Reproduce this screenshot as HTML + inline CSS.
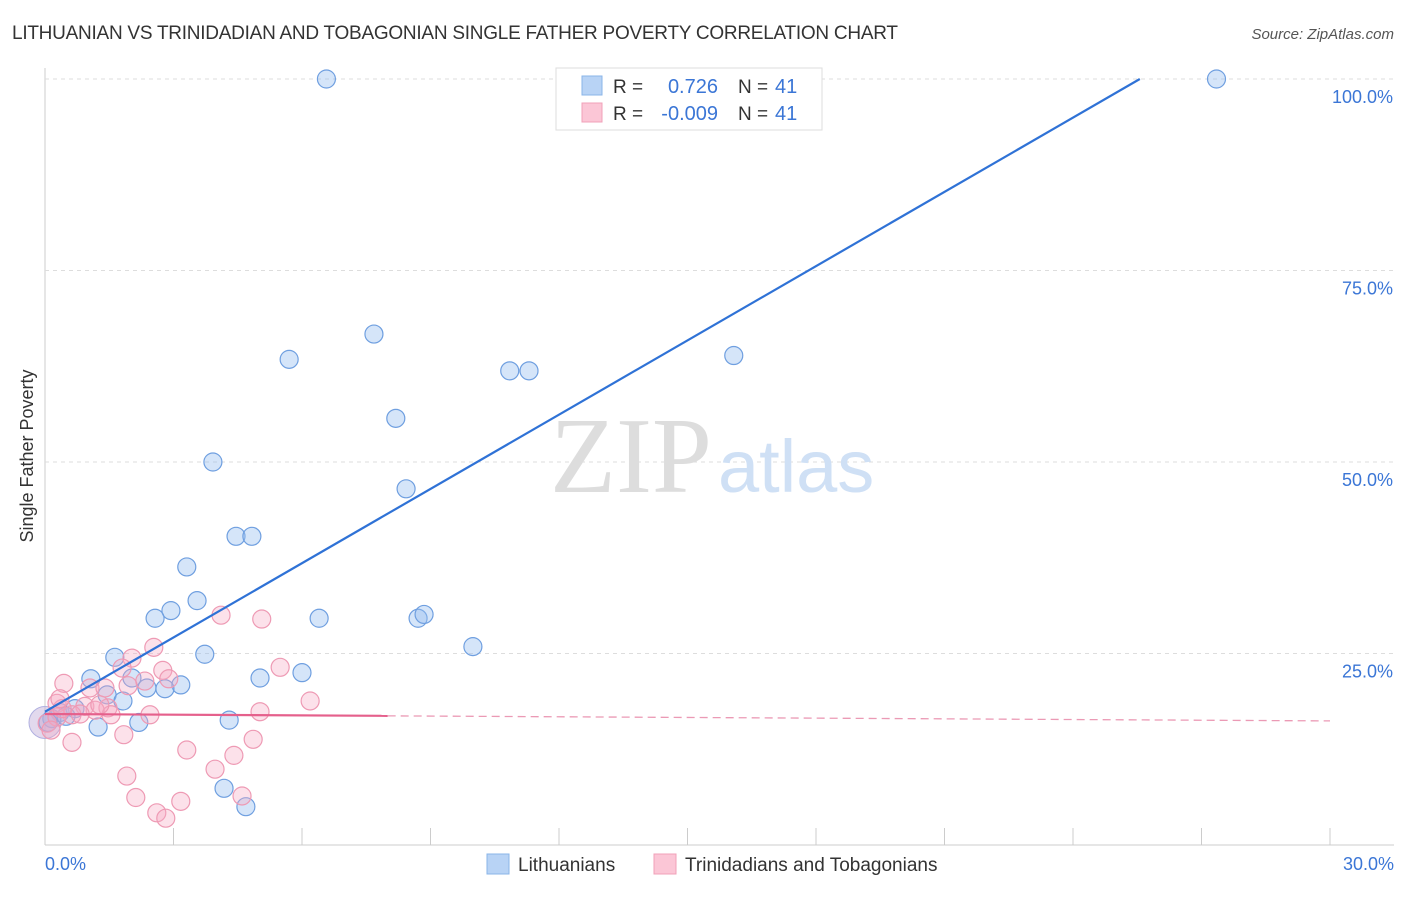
<!DOCTYPE html>
<html><head><meta charset="utf-8"><style>
body{margin:0;background:#fff;font-family:"Liberation Sans",sans-serif}
</style></head><body>
<svg id="c" width="1406" height="892" xmlns="http://www.w3.org/2000/svg">
<text x="12" y="39" font-size="19" fill="#333" textLength="886">LITHUANIAN VS TRINIDADIAN AND TOBAGONIAN SINGLE FATHER POVERTY CORRELATION CHART</text>
<text x="1394" y="39" font-size="15" fill="#555" font-style="italic" text-anchor="end">Source: ZipAtlas.com</text>
<text x="33" y="456" font-size="18" fill="#333" transform="rotate(-90 33 456)" text-anchor="middle">Single Father Poverty</text>
<g id="grid"></g>
<text x="712" y="492" font-size="108" fill="#ddd" text-anchor="end" font-family="Liberation Serif">ZIP</text>
<text x="718" y="492" font-size="74" fill="#cfe0f5">atlas</text>
<g id="pts"></g>
<g id="lines"></g>
<g>
<rect x="556" y="68" width="266" height="62" fill="#fff" stroke="#ddd"/>
<rect x="582" y="76" width="20" height="19" fill="#b8d3f5" stroke="#8ab4e8"/>
<rect x="582" y="103" width="20" height="19" fill="#fbc6d6" stroke="#f0a0b8"/>
<text x="613" y="93" font-size="19" fill="#333">R = </text><text x="718" y="93" font-size="20" fill="#3b76d6" text-anchor="end">0.726</text>
<text x="738" y="93" font-size="19" fill="#333">N = </text><text x="775" y="93" font-size="20" fill="#3b76d6">41</text>
<text x="613" y="120" font-size="19" fill="#333">R = </text><text x="718" y="120" font-size="20" fill="#3b76d6" text-anchor="end">-0.009</text>
<text x="738" y="120" font-size="19" fill="#333">N = </text><text x="775" y="120" font-size="20" fill="#3b76d6">41</text>
</g>
<g>
<rect x="487" y="854" width="22" height="20" fill="#b8d3f5" stroke="#8ab4e8"/>
<text x="518" y="871" font-size="19" fill="#333">Lithuanians</text>
<rect x="654" y="854" width="22" height="20" fill="#fbc6d6" stroke="#f0a0b8"/>
<text x="685" y="871" font-size="19" fill="#333">Trinidadians and Tobagonians</text>
</g>
</svg>
<script>
const xTicks=[0,3,6,9,12,15,18,21,24,27,30];
const yTicks=[25,50,75,100];
const blueX=[6.57,27.35,7.68,5.70,16.08,10.85,11.30,8.19,3.92,8.43,4.46,4.83,3.31,3.55,2.94,2.57,6.40,8.71,8.85,9.99,3.73,1.63,6.00,5.02,1.07,2.03,3.17,2.38,2.80,1.45,1.82,4.30,2.19,1.24,4.18,4.69,0.35,0.70,0.16,0.07,0.49];
const blueY=[100,100,66.7,63.4,63.9,61.9,61.9,55.7,50.0,46.5,40.3,40.3,36.3,31.9,30.6,29.6,29.6,29.6,30.1,25.9,24.9,24.5,22.5,21.8,21.7,21.8,20.9,20.5,20.4,19.6,18.8,16.3,16.0,15.4,7.4,5.0,17.3,17.8,16.5,16.0,16.8];
const pinkX=[4.11,5.06,2.54,5.49,6.19,5.02,2.03,1.80,2.75,2.89,2.33,1.94,1.05,0.44,1.40,1.47,2.45,1.54,0.93,1.17,0.63,0.28,0.05,0.63,1.84,4.86,3.31,4.41,3.97,1.91,2.12,4.60,3.17,2.61,2.82,0.28,0.40,0.82,0.14,0.35,1.28];
const pinkY=[30.0,29.5,25.8,23.2,18.8,17.4,24.4,23.1,22.8,21.7,21.4,20.8,20.5,21.1,20.5,17.9,17.0,17.0,18.1,17.6,17.0,18.5,15.9,13.4,14.4,13.8,12.4,11.7,9.9,9.0,6.2,6.4,5.7,4.2,3.5,16.7,17.8,17.1,15.0,19.1,18.3];
const blueTrend=[0,17.4,25.56,100];
const pinkTrend=[0,17.1,30,16.2];
const pinkSolidEnd=8.0;
const X=v=>45+v/30*1285, Y=v=>845-v/100*766;
const NS="http://www.w3.org/2000/svg";
function mk(t,a,p){const e=document.createElementNS(NS,t);for(const k in a)e.setAttribute(k,a[k]);p.appendChild(e);return e;}
const g=document.getElementById('grid');
mk('line',{x1:45,y1:68,x2:45,y2:845,stroke:'#ccc'},g);
mk('line',{x1:45,y1:845,x2:1394,y2:845,stroke:'#ccc'},g);
yTicks.forEach(t=>{const l=mk('line',{x1:45,y1:Y(t),x2:1394,y2:Y(t),stroke:'#ddd','stroke-dasharray':'4,4'},g);


const tx=mk('text',{x:1393,y:Y(t)+24,'font-size':18,fill:'#3b76d6','text-anchor':'end'},g);tx.textContent=t.toFixed(1)+'%';

});
xTicks.forEach(t=>{const l=mk('line',{x1:X(t),y1:828,x2:X(t),y2:845,stroke:'#ccc'},g);

});
[[0,'start',45],[30,'end',1394]].forEach(([t,a,x])=>{const tx=mk('text',{x:x,y:870,'font-size':18,fill:'#3b76d6','text-anchor':a},g);tx.textContent=t.toFixed(1)+'%';

});
const p=document.getElementById('pts');
let c=mk('circle',{cx:X(0),cy:Y(16),r:16,fill:'rgba(190,170,215,0.45)',stroke:'#b0b0e0'},p);


blueX.forEach((v,i)=>{const e=mk('circle',{cx:X(v),cy:Y(blueY[i]),r:9,fill:'rgba(150,190,240,0.4)',stroke:'#6f9fe0','stroke-width':1.2},p);

});
pinkX.forEach((v,i)=>{const e=mk('circle',{cx:X(v),cy:Y(pinkY[i]),r:9,fill:'rgba(245,170,195,0.35)',stroke:'#ee9ab4','stroke-width':1.2},p);

});
const L=document.getElementById('lines');
let b=mk('line',{x1:X(blueTrend[0]),y1:Y(blueTrend[1]),x2:X(blueTrend[2]),y2:Y(blueTrend[3]),stroke:'#2f72d6','stroke-width':2.2},L);


const py=x=>pinkTrend[1]+(pinkTrend[3]-pinkTrend[1])*(x-pinkTrend[0])/(pinkTrend[2]-pinkTrend[0]);
let s=mk('line',{x1:X(pinkTrend[0]),y1:Y(pinkTrend[1]),x2:X(pinkSolidEnd),y2:Y(py(pinkSolidEnd)),stroke:'#e5608c','stroke-width':2.2},L);


let d=mk('line',{x1:X(pinkSolidEnd),y1:Y(py(pinkSolidEnd)),x2:X(pinkTrend[2]),y2:Y(pinkTrend[3]),stroke:'#eb9ab5','stroke-width':1.3,'stroke-dasharray':'8,5'},L);


</script>
</body></html>
